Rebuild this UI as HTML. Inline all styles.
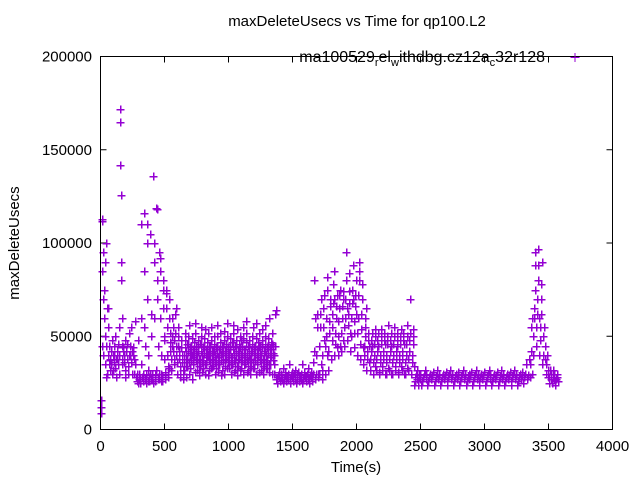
<!DOCTYPE html>
<html><head><meta charset="utf-8"><style>
body{margin:0;background:#fff;}
svg{display:block;font-family:"Liberation Sans",sans-serif;}
</style></head><body>
<svg id="chart" width="640" height="480" viewBox="0 0 640 480" xmlns="http://www.w3.org/2000/svg">
<rect width="640" height="480" fill="#fff"/>
<text x="357" y="26" font-size="15" text-anchor="middle">maxDeleteUsecs vs Time for qp100.L2</text>
<text transform="translate(19,243) rotate(-90)" font-size="15" text-anchor="middle">maxDeleteUsecs</text>
<text x="356" y="472" font-size="15" text-anchor="middle">Time(s)</text>
<g id="ticks"></g>
<g id="points"></g>
<rect x="100.5" y="56.5" width="512" height="373" fill="none" stroke="#000" stroke-width="1"/>
<g>
<text x="545" y="62" font-size="16" text-anchor="end">ma100529<tspan font-size="11" dy="4">r</tspan><tspan dy="-4">el</tspan><tspan font-size="11" dy="4">w</tspan><tspan dy="-4">ithdbg.cz12a</tspan><tspan font-size="11" dy="4">c</tspan><tspan dy="-4">32r128</tspan></text>
<path d="M570.5 57.5h9M575 53v9" stroke="#9400d3" stroke-width="1" shape-rendering="crispEdges"/>
</g>
</svg>
<script>
const xTicks=[0,500,1000,1500,2000,2500,3000,3500,4000];
const yTicks=[0,50000,100000,150000,200000];
const bucketStart=[0,25,50,75,100,125,150,175,200,225,250,275,300,325,350,375,400,425,450,475,500,525,550,575,600,625,
650,675,700,725,750,775,800,825,850,875,900,925,950,975,1000,1025,1050,1075,1100,1125,1150,1175,1200,1225,1250,1275,1300,1325,
1350,1375,1400,1425,1450,1475,1500,1525,1550,1575,1600,1625,1650,1675,1700,1725,1750,1775,1800,1825,1850,1875,1900,1925,1950,1975,
2000,2025,2050,2075,2100,2125,2150,2175,2200,2225,2250,2275,2300,2325,2350,2375,2400,2425,2450,2475,
2500,2550,2600,2650,2700,2750,2800,2850,2900,2950,3000,3050,3100,3150,3200,3250,3300,3350,3375,3400,3425,3450,3475,3500,3525,3550,3575];
const bucketVals=[
[9,12,16,45,85,112,113,70,95,40,60],[60,75,50,90,35,28,45,100,65],[30,40,55,65,45,35,32,37],[38,42,35,30,48,32,40],[40,36,45,33,50,28,38],
[42,38,35,46,30,55,40],[172,165,142,126,90,80,45,38,35,60,42],[44,40,36,32,48,28,42],[42,46,38,34,30,52,40],[45,40,36,55,30,42],
[40,44,38,30,58,35],[28,26,30,25,48,27],[30,27,25,110,60,35,28],[28,26,30,116,85,55,45,27],[27,29,25,100,110,70,40,32,26],
[28,26,30,105,62,50,27],[27,30,25,136,100,90,60,28],[29,26,32,119,118,80,70,45,27],[28,27,30,95,92,85,60,40,26],[30,26,28,80,75,65,50,48,38],
[29,27,31,75,73,65,55,40,34],[30,28,33,70,60,52,47,42,38],[32,45,50,60,55,42,38,35],[48,52,62,65,45,40,36,30],[45,50,55,42,38,34,30,28],[44,48,40,36,32,30,27],
[32,36,40,44,48,52,38,28,34,42,46],[34,38,42,46,50,56,30,36,40,44],[33,37,41,45,49,40,27,35,39,43],[35,39,43,47,52,57,31,37,41,45],[32,36,40,44,48,42,29,34,38,46],[34,38,42,46,50,55,31,36,40,44],
[33,37,41,45,49,54,30,35,39,43],[35,39,43,47,52,40,29,37,41,45],[32,36,40,44,48,55,33,34,38,42],[34,38,42,46,50,42,30,36,40,44],[33,37,41,45,50,56,31,35,39,43],[35,39,43,47,52,40,29,37,41,45],
[32,36,40,44,48,53,30,34,38,42],[34,38,42,46,50,57,33,36,40,44],[33,37,41,45,49,43,30,35,39,47],[35,39,43,47,52,56,31,37,41,45],[32,36,40,44,48,54,29,34,38,42],[34,38,42,46,50,44,32,36,40,48],
[33,37,41,45,49,55,30,35,39,43],[35,39,43,47,52,58,31,37,41,45],[32,36,40,44,48,45,30,34,38,42],[34,38,42,46,50,55,33,36,40,44],[33,37,41,45,49,57,30,35,39,43],[35,39,43,47,52,44,31,37,41,45],
[32,36,40,44,48,54,30,34,38,42],[34,38,42,46,50,56,33,36,40,44],[33,37,41,45,49,60,31,35,39,43],[35,39,43,47,52,46,30,37,41,45],
[30,35,40,45,62,64,27],[25,27,29,31,28],[26,28,30,27,33],[25,27,29,31,28],[26,28,30,27,35],[25,27,29,31,28],[26,28,30,27,32],
[25,27,29,31,28],[26,28,30,27,35],[25,27,29,31,28],[26,28,30,27,33],[25,27,29,31,28],[26,28,30,36,42,80,60],[27,30,40,55,62,30],
[28,30,45,55,62,70,35],[27,32,40,55,65,72,48],[30,45,50,60,75,82,40],[32,42,52,58,66,70,38],[38,48,55,62,68,78,70,85],[40,46,52,60,66,72,44],
[40,50,58,65,72,75,45],[42,52,60,66,70,74,48],[45,55,60,70,80,95,65],[48,56,62,68,74,84,52],[42,50,60,68,75,88,70],[44,52,58,66,72,80,62],
[40,52,60,72,80,85,90],[38,46,54,62,70,78,44],[35,40,45,50,55,60,65],[32,38,42,48,52,45,36],[32,38,42,48,52,45],[30,36,40,46,50,54,34],
[32,38,42,48,52,45,31],[30,36,40,46,50,54,34],[32,38,42,48,52,46,30],[30,36,40,46,50,56,33],[32,38,42,48,52,45,30],[30,36,40,46,50,55,34],
[32,38,42,48,52,45,31],[30,36,40,46,50,54,34],[32,38,42,48,52,46,30],[30,36,40,46,50,56,33],
[32,38,42,48,52,70,30],[30,36,40,46,50,54,34],[24,26,28,30,32,27],[24,26,28,30,27,29],
[24,26,28,30,32,27,29],[24,26,28,30,27,29,31],[24,26,28,30,32,27,29],[24,26,28,30,27,29,31],[24,26,28,30,32,27,29],[24,26,28,30,27,29,31],
[24,26,28,30,32,27,29],[24,26,28,30,27,29,31],[24,26,28,30,32,27,29],[24,26,28,30,27,29,31],[24,26,28,30,32,27,29],[24,26,28,30,27,29,31],
[24,26,28,30,32,27,29],[24,26,28,30,27,29,31],[24,26,28,30,32,27,29],[24,26,28,30,27,29,31],[25,28,30,35,27,29,38],
[28,35,42,55,60,30],[40,50,60,65,75,88,95],[45,55,62,70,80,88,97,60],[40,48,55,62,70,78,90],[35,40,50,55,45,38],[30,35,40,32,28],
[25,28,32,30,27],[25,28,32,30,27,26],[24,27,30,28,26]
];
const svgNS="http://www.w3.org/2000/svg";
const X0=100.5,X1=612.5,Y0=429.5,Y1=56.5;
function xs(t){return X0+(t/4000)*(X1-X0);}
function ys(v){return Y0-(v/200000)*(Y0-Y1);}
const tg=document.getElementById('ticks');
xTicks.forEach(t=>{
  const p=document.createElementNS(svgNS,'path');
  p.setAttribute('d',`M${xs(t)} ${Y0}v-6M${xs(t)} ${Y1}v6`);
  p.setAttribute('stroke','#000');
  
  
  tg.appendChild(p);
  const tx=document.createElementNS(svgNS,'text');
  tx.setAttribute('x',xs(t));tx.setAttribute('y',451);
  tx.setAttribute('font-size','15');tx.setAttribute('text-anchor','middle');
  tx.textContent=t;
  
  
  tg.appendChild(tx);
});
yTicks.forEach(v=>{
  const p=document.createElementNS(svgNS,'path');
  p.setAttribute('d',`M${X0} ${ys(v)}h6M${X1} ${ys(v)}h-6`);
  p.setAttribute('stroke','#000');
  
  
  tg.appendChild(p);
  const tx=document.createElementNS(svgNS,'text');
  tx.setAttribute('x',92);tx.setAttribute('y',ys(v)+5);
  tx.setAttribute('font-size','15');tx.setAttribute('text-anchor','end');
  tx.textContent=v;
  
  
  tg.appendChild(tx);
});
const pg=document.getElementById('points');
let d='';
bucketVals.forEach((vals,i)=>{
  const t0=bucketStart[i];
  const w=(i+1<bucketStart.length?bucketStart[i+1]:t0+25)-t0;
  vals.forEach((v,j)=>{
    const t=t0+w*(j+0.5)/vals.length;
    const x=Math.round(xs(t))+0.5,y=Math.round(ys(v*1000))+0.5;
    d+=`M${x-4} ${y}h8M${x} ${y-4}v8`;
  });
});
const pts=document.createElementNS(svgNS,'path');
pts.setAttribute('d',d);
pts.setAttribute('stroke','#9400d3');
pts.setAttribute('stroke-width','1.5');
pts.setAttribute('shape-rendering','crispEdges');


pg.appendChild(pts);
</script>
</body></html>
